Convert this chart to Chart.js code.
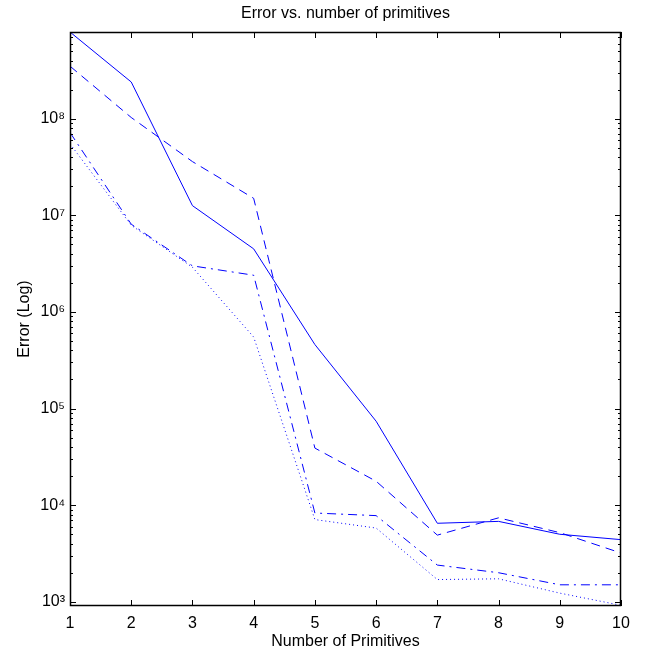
<!DOCTYPE html>
<html lang="en">
<head>
<meta charset="UTF-8">
<title>Error vs. number of primitives</title>
<script src="https://cdn.jsdelivr.net/npm/chart.js"></script>
<style>
  html, body { margin: 0; padding: 0; background: #fff; }
  #wrap { width: 647px; height: 653px; }
</style>
</head>
<body>
<div id="wrap"><canvas id="errChart" width="647" height="653"></canvas></div>
<script>
// data (log scale)
const primitives = [1, 2, 3, 4, 5, 6, 7, 8, 9, 10];
const errSolid   = [7.9e8, 2.4e8, 1.26e7, 4.5e6, 4.6e5, 7.4e4, 6.5e3, 6.8e3, 5.0e3, 4.4e3];
const errDashed  = [3.5e8, 1.03e8, 3.6e7, 1.5e7, 3.9e4, 1.77e4, 4.9e3, 7.4e3, 5.2e3, 3.2e3];
const errDashDot = [7.2e7, 8.1e6, 3.0e6, 2.4e6, 8.3e3, 7.8e3, 2.4e3, 2.0e3, 1.5e3, 1.5e3];
const errDotted  = [5.5e7, 7.9e6, 2.9e6, 5.5e5, 7.1e3, 5.8e3, 1.7e3, 1.73e3, 1.23e3, 0.92e3];
const yDecades = [1e3, 1e4, 1e5, 1e6, 1e7, 1e8];
const xTickValues = [1, 2, 3, 4, 5, 6, 7, 8, 9, 10];
const yMin = 905, yMax = 7.9e8;

const FONT = "'Liberation Sans', Arial, Helvetica, sans-serif";
const SUP = '⁰¹²³⁴⁵⁶⁷⁸⁹';
const blue = '#0000ff';

function toPoints(vals) {
    return primitives.map((p, i) => ({ x: p, y: vals[i] }));
}

function lineSet(label, vals, dash) {
    return {
        label: label,
        data: toPoints(vals),
        borderColor: blue,
        backgroundColor: blue,
        borderWidth: 1,
        borderDash: dash,
        pointRadius: 0,
        tension: 0,
        fill: false
    };
}

// inward ticks + box like matlab, title centred over the axes
const boxTicks = {
    id: 'boxTicks',
    afterLayout(chart) {
        if (chart.titleBlock) {
            chart.titleBlock.left = chart.chartArea.left;
            chart.titleBlock.right = chart.chartArea.right;
        }
    },
    afterDraw(chart) {
        const { ctx, chartArea: a, scales: { x, y } } = chart;
        ctx.save();
        ctx.strokeStyle = '#000';
        ctx.lineWidth = 1;
        ctx.beginPath();
        xTickValues.forEach(v => {
            const px = Math.round(x.getPixelForValue(v)) + 0.5;
            ctx.moveTo(px, a.bottom); ctx.lineTo(px, a.bottom - 6);
            ctx.moveTo(px, a.top); ctx.lineTo(px, a.top + 6);
        });
        for (let d = 2; d <= 8; d++) {
            for (let m = 1; m <= 9; m++) {
                const v = m * Math.pow(10, d);
                if (v < yMin || v > yMax) continue;
                const py = Math.round(y.getPixelForValue(v)) + 0.5;
                const len = m === 1 ? 6 : 3;
                ctx.moveTo(a.left, py); ctx.lineTo(a.left + len, py);
                ctx.moveTo(a.right, py); ctx.lineTo(a.right - len, py);
            }
        }
        ctx.stroke();
        ctx.lineWidth = 1.5;
        ctx.strokeRect(Math.round(a.left) + 0.5, Math.round(a.top) + 0.5,
            Math.round(a.right - a.left) - 1, Math.round(a.bottom - a.top) - 1);
        ctx.restore();
    }
};

const ctx = document.getElementById('errChart').getContext('2d');
const errChart = new Chart(ctx, {
    type: 'line',
    data: {
        datasets: [
            lineSet('solid', errSolid, []),
            lineSet('dashed', errDashed, [9, 6]),
            lineSet('dash-dot', errDashDot, [9, 5, 2, 5]),
            lineSet('dotted', errDotted, [1, 3])
        ]
    },
    options: {
        responsive: false,
        animation: false,
        devicePixelRatio: 1,
        layout: { padding: { left: 0, right: 26, top: 0, bottom: 0 } },
        plugins: {
            legend: { display: false },
            tooltip: { enabled: false },
            title: {
                display: true,
                text: 'Error vs. number of primitives',
                color: '#000',
                font: { family: FONT, size: 16, weight: 'normal' },
                padding: { top: 4, bottom: 8.8 }
            }
        },
        scales: {
            x: {
                type: 'linear',
                min: 1,
                max: 10,
                afterBuildTicks: s => { s.ticks = xTickValues.map(v => ({ value: v })); },
                afterFit: s => { s.height = 47; },
                grid: { display: false, drawTicks: false },
                border: { display: false },
                ticks: {
                    color: '#000',
                    font: { family: FONT, size: 16 },
                    padding: 8,
                    maxRotation: 0
                },
                title: {
                    display: true,
                    text: 'Number of Primitives',
                    color: '#000',
                    font: { family: FONT, size: 16 },
                    padding: { top: 0, bottom: 2 }
                }
            },
            y: {
                type: 'logarithmic',
                min: yMin,
                max: yMax,
                afterBuildTicks: s => { s.ticks = yDecades.map(v => ({ value: v })); },
                afterFit: s => { s.width = 70; },
                grid: { display: false, drawTicks: false },
                border: { display: false },
                ticks: {
                    color: '#000',
                    font: { family: FONT, size: 16 },
                    padding: 5,
                    callback: v => '10' + SUP[Math.round(Math.log10(v))]
                },
                title: {
                    display: true,
                    text: 'Error (Log)',
                    color: '#000',
                    font: { family: FONT, size: 16 },
                    padding: { top: 15, bottom: 0 }
                }
            }
        }
    },
    plugins: [boxTicks]
});
</script>
</body>
</html>
